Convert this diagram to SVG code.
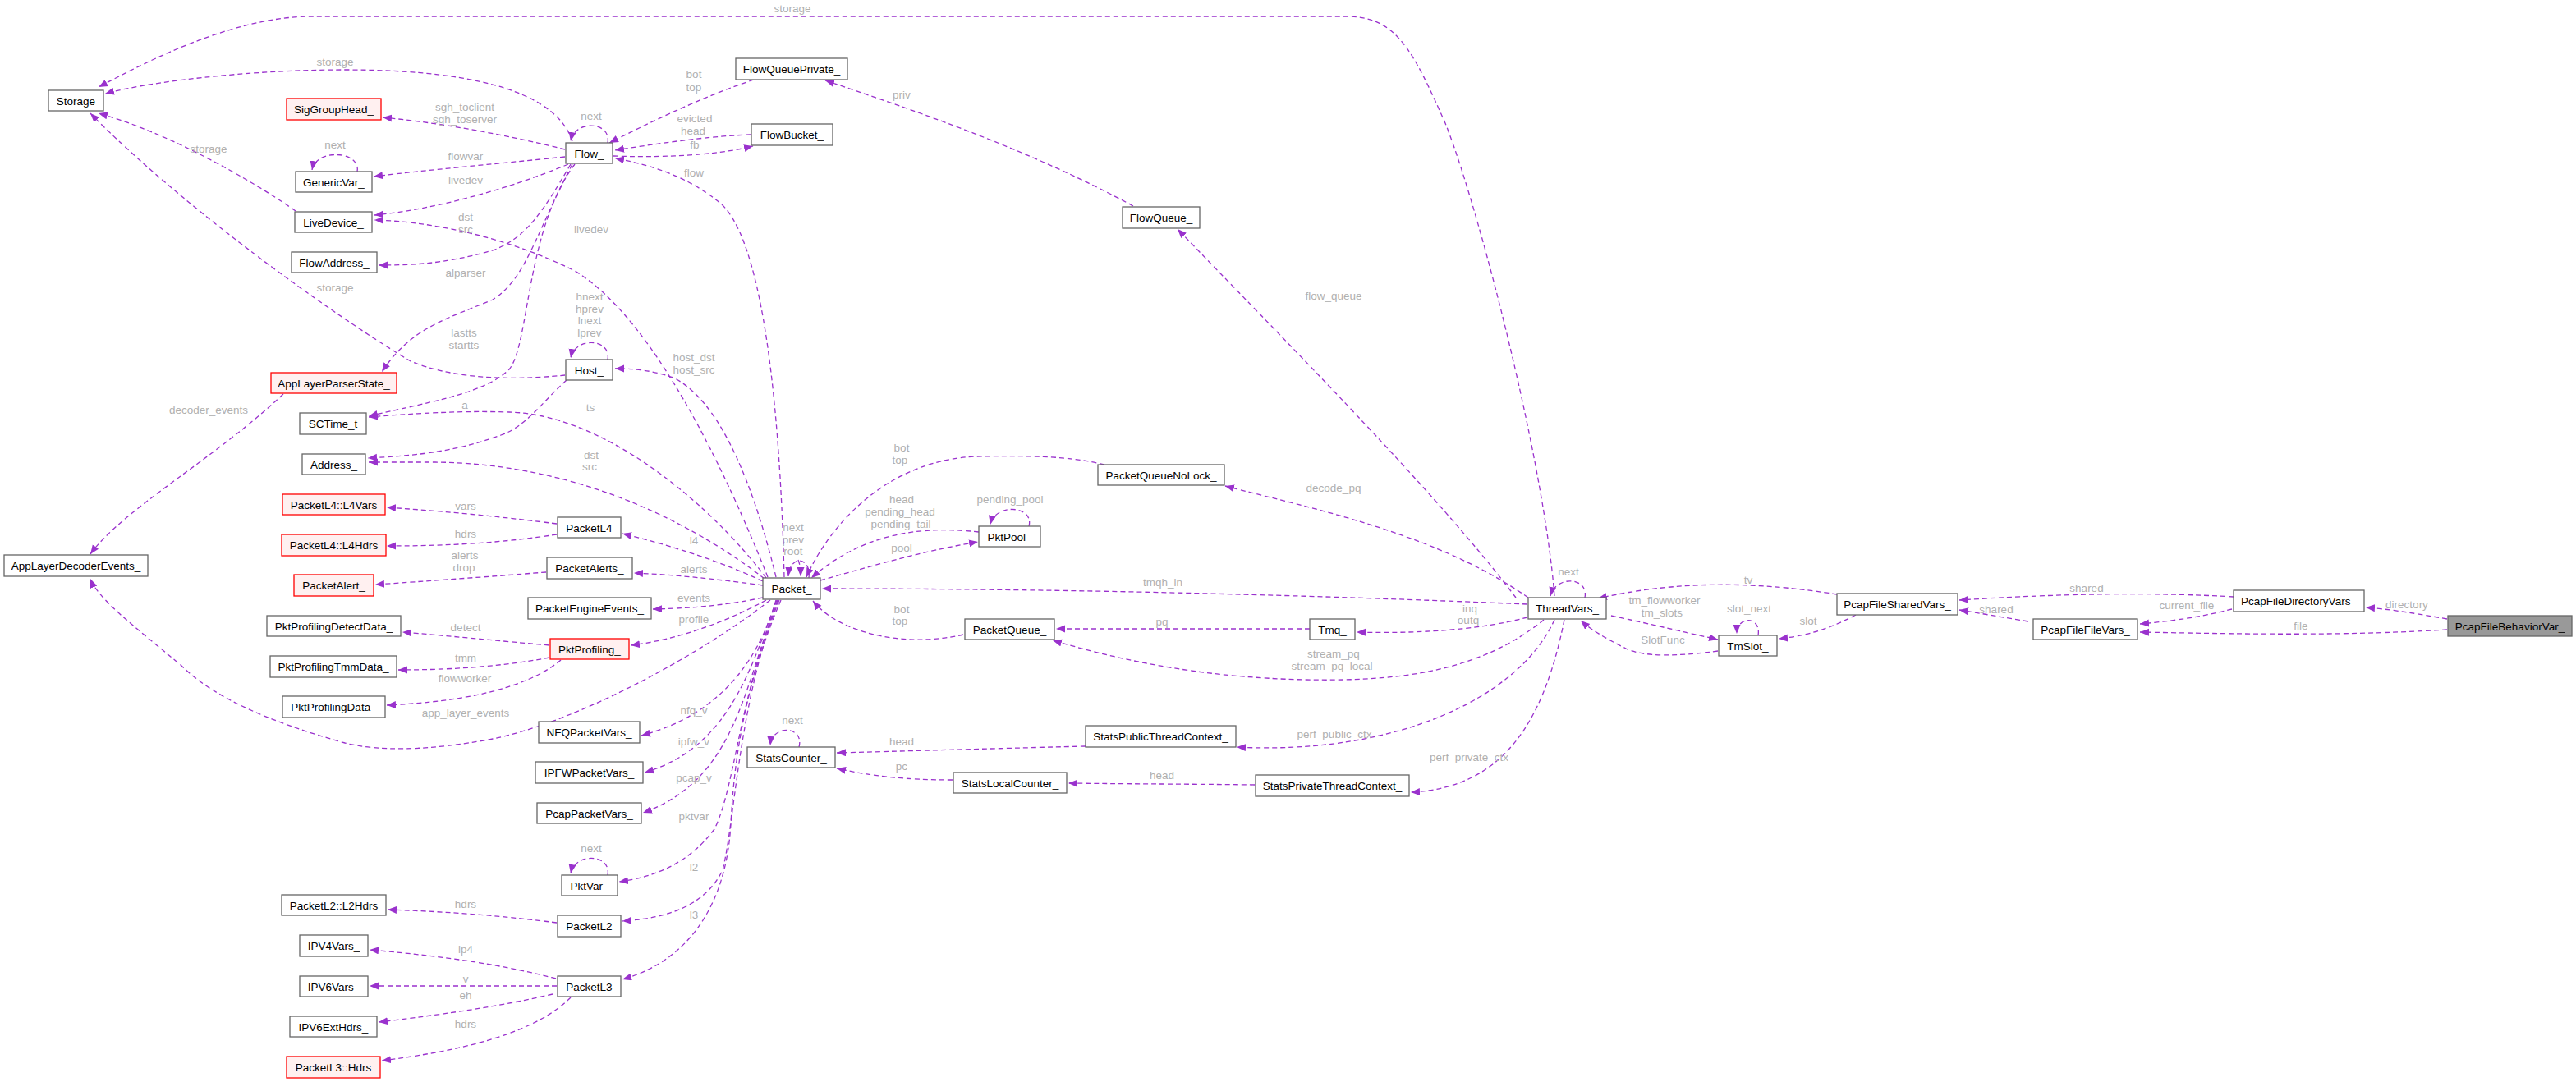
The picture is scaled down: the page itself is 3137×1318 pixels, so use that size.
<svg xmlns="http://www.w3.org/2000/svg" width="3137" height="1318" viewBox="0 0 3137 1318">
<style>
.n rect{fill:#fff;stroke:#666;stroke-width:1.3}
.r rect{fill:#fff0f0;stroke:#ff0000}
.g rect{fill:#999}
.n text{font-family:"Liberation Sans",Arial,sans-serif;font-size:13.5px;fill:#000;text-anchor:middle}
#edges path{fill:none;stroke:#9a32cd;stroke-width:1.3;stroke-dasharray:6,4;marker-end:url(#ah)}
#edges text{font-family:"Liberation Sans",Arial,sans-serif;font-size:13.5px;fill:#b0b0b0;text-anchor:middle}
</style>
<defs><marker id="ah" markerUnits="userSpaceOnUse" markerWidth="12" markerHeight="10" refX="11" refY="4.5" orient="auto"><path d="M0,0 L11,4.5 L0,9 z" fill="#9a32cd"/></marker></defs>
<rect width="3137" height="1318" fill="#fff"/>
<g id="edges">
<path d="M1893,726 C1880,560 1800,250 1760,150 C1720,60 1700,20 1640,20 L380,20 C280,20 170,80 120,106"/><text x="965" y="15">storage</text>
<path d="M697,172 C680,120 600,85 420,85 C300,85 180,100 128,114"/><text x="408" y="80">storage</text>
<path d="M360,257 C300,215 200,160 120,138"/><text x="254" y="186">storage</text>
<path d="M688,457 C640,462 560,465 500,440 C400,380 220,250 110,138"/><text x="408" y="355">storage</text>
<path d="M688,182 C620,165 540,150 466,143"/><text x="566" y="135">sgh_toclient</text><text x="566" y="150">sgh_toserver</text>
<path d="M740,174 C745,148 700,145 695,172"/><text x="720" y="146">next</text>
<path d="M688,191 C600,200 520,207 455,215"/><text x="567" y="195">flowvar</text>
<path d="M435,209 C440,184 385,180 380,207"/><text x="408" y="181">next</text>
<path d="M692,200 C620,230 530,255 456,262"/><text x="567" y="224">livedev</text>
<path d="M935,703 C890,590 800,390 700,330 C620,290 530,270 456,268"/><text x="720" y="284">livedev</text>
<path d="M695,200 C660,260 640,290 600,305 C540,322 500,323 461,323"/><text x="567" y="269">dst</text><text x="567" y="284">src</text>
<path d="M697,200 C650,290 640,340 600,365 C540,390 500,400 465,453"/><text x="567" y="337">alparser</text>
<path d="M700,200 C640,280 645,420 620,450 C590,480 520,490 449,507"/><text x="565" y="410">lastts</text><text x="565" y="425">startts</text>
<path d="M690,463 C660,490 640,520 610,530 C550,552 500,555 448,558"/><text x="566" y="498">a</text>
<path d="M740,438 C745,412 700,410 695,436"/><text x="718" y="366">hnext</text><text x="718" y="381">hprev</text><text x="718" y="395">lnext</text><text x="718" y="410">lprev</text>
<path d="M945,703 C920,600 880,490 820,460 C790,450 770,449 749,449"/><text x="845" y="440">host_dst</text><text x="845" y="455">host_src</text>
<path d="M933,704 C870,620 740,505 620,502 C560,500 500,504 449,508"/><text x="719" y="501">ts</text>
<path d="M931,705 C860,650 720,565 530,563 L449,563"/><text x="720" y="559">dst</text><text x="718" y="573">src</text>
<path d="M678,638 C600,628 530,622 471,618"/><text x="567" y="621">vars</text>
<path d="M678,651 C600,663 530,665 471,665"/><text x="567" y="655">hdrs</text>
<path d="M929,708 C870,680 800,660 758,650"/><text x="845" y="663">l4</text>
<path d="M665,697 C600,702 520,708 457,712"/><text x="566" y="681">alerts</text><text x="565" y="696">drop</text>
<path d="M929,713 C870,705 820,700 772,698"/><text x="845" y="698">alerts</text>
<path d="M929,728 C880,738 840,741 795,742"/><text x="845" y="733">events</text>
<path d="M933,731 C880,760 820,780 768,786"/><text x="845" y="759">profile</text>
<path d="M669,786 C600,780 540,774 490,770"/><text x="567" y="769">detect</text>
<path d="M669,801 C610,812 550,816 485,816"/><text x="567" y="806">tmm</text>
<path d="M683,804 C640,840 560,855 471,859"/><text x="566" y="831">flowworker</text>
<path d="M938,731 C850,800 700,880 600,900 C520,915 460,915 420,905 C330,880 260,850 220,810 C160,760 120,730 110,705"/><text x="567" y="873">app_layer_events</text>
<path d="M345,480 C260,560 150,620 110,675"/><text x="254" y="504">decoder_events</text>
<path d="M945,731 C925,800 880,870 781,896"/><text x="845" y="870">nfq_v</text>
<path d="M946,731 C915,810 890,910 785,941"/><text x="845" y="908">ipfw_v</text>
<path d="M947,731 C905,840 895,950 783,990"/><text x="845" y="952">pcap_v</text>
<path d="M948,731 C900,850 895,960 870,1010 C840,1050 800,1068 754,1074"/><text x="845" y="999">pktvar</text>
<path d="M740,1066 C745,1040 700,1038 695,1064"/><text x="720" y="1038">next</text>
<path d="M949,731 C900,850 895,1000 880,1060 C860,1100 820,1118 758,1122"/><text x="845" y="1061">l2</text>
<path d="M678,1124 C600,1114 530,1110 472,1108"/><text x="567" y="1106">hdrs</text>
<path d="M951,731 C900,850 893,950 890,1003 C885,1100 840,1170 758,1193"/><text x="845" y="1119">l3</text>
<path d="M677,1192 C600,1172 520,1163 450,1157"/><text x="567" y="1161">ip4</text>
<path d="M678,1201 L450,1201"/><text x="567" y="1197">v</text>
<path d="M673,1211 C600,1228 520,1238 461,1245"/><text x="567" y="1217">eh</text>
<path d="M695,1215 C650,1260 560,1280 465,1292"/><text x="567" y="1252">hdrs</text>
<path d="M985,704 C988,678 962,675 960,702"/><path d="M972,682 C975,690 975,695 975,702"/><text x="966" y="647">next</text><text x="966" y="662">prev</text><text x="966" y="676">root</text>
<path d="M955,703 C950,500 930,300 880,250 C840,215 790,200 749,193"/><text x="845" y="215">flow</text>
<path d="M747,190 C800,192 870,190 917,178"/><text x="846" y="181">fb</text>
<path d="M914,164 C860,166 800,175 749,183"/><text x="846" y="149">evicted</text><text x="844" y="164">head</text>
<path d="M918,97 C850,120 790,150 742,174"/><text x="845" y="95">bot</text><text x="845" y="111">top</text>
<path d="M1380,251 C1250,180 1100,130 1005,98"/><text x="1098" y="120">priv</text>
<path d="M1846,728 C1750,600 1550,400 1434,279"/><text x="1624" y="365">flow_queue</text>
<path d="M1861,728 C1750,650 1600,620 1492,592"/><text x="1624" y="599">decode_pq</text>
<path d="M1345,566 C1300,555 1250,555 1190,556 C1080,560 1010,640 982,703"/><text x="1098" y="550">bot</text><text x="1096" y="565">top</text>
<path d="M1192,648 C1120,640 1050,650 988,704"/><text x="1098" y="613">head</text><text x="1096" y="628">pending_head</text><text x="1097" y="643">pending_tail</text>
<path d="M1253,641 C1260,616 1212,612 1206,639"/><text x="1230" y="613">pending_pool</text>
<path d="M999,707 C1060,690 1120,672 1191,660"/><text x="1098" y="672">pool</text>
<path d="M1860,736 C1600,725 1300,717 1001,717"/><text x="1416" y="714">tmqh_in</text>
<path d="M1173,773 C1100,790 1020,770 990,732"/><text x="1098" y="747">bot</text><text x="1096" y="761">top</text>
<path d="M1595,766 L1286,766"/><text x="1415" y="762">pq</text>
<path d="M1860,752 C1800,768 1720,772 1652,770"/><text x="1790" y="746">inq</text><text x="1788" y="760">outq</text>
<path d="M1880,755 C1800,820 1700,830 1590,828 C1450,825 1350,800 1282,780"/><text x="1624" y="801">stream_pq</text><text x="1622" y="816">stream_pq_local</text>
<path d="M1893,755 C1850,850 1700,920 1506,910"/><text x="1625" y="899">perf_public_ctx</text>
<path d="M1905,755 C1880,880 1830,960 1718,965"/><text x="1789" y="927">perf_private_ctx</text>
<path d="M1322,909 C1200,912 1100,915 1019,917"/><text x="1098" y="908">head</text>
<path d="M1160,950 C1100,950 1060,945 1019,936"/><text x="1098" y="938">pc</text>
<path d="M1528,956 C1450,955 1380,955 1301,954"/><text x="1415" y="949">head</text>
<path d="M973,910 C980,884 940,882 938,908"/><text x="965" y="882">next</text>
<path d="M1930,728 C1935,703 1895,700 1888,726"/><text x="1910" y="701">next</text>
<path d="M1962,750 C2010,760 2050,770 2092,779"/><text x="2027" y="736">tm_flowworker</text><text x="2024" y="751">tm_slots</text>
<path d="M2092,793 C2040,800 2000,800 1980,790 C1950,775 1935,765 1925,756"/><text x="2025" y="784">SlotFunc</text>
<path d="M2141,774 C2145,750 2115,750 2115,772"/><text x="2130" y="746">slot_next</text>
<path d="M2237,724 C2150,710 2050,705 1946,729"/><text x="2129" y="711">tv</text>
<path d="M2260,749 C2230,765 2200,775 2166,778"/><text x="2202" y="761">slot</text>
<path d="M2720,727 C2600,720 2480,725 2386,731"/><text x="2541" y="721">shared</text>
<path d="M2470,757 C2440,752 2410,747 2386,743"/><text x="2431" y="747">shared</text>
<path d="M2718,742 C2680,752 2640,757 2606,760"/><text x="2663" y="742">current_file</text>
<path d="M2980,754 C2940,747 2910,742 2881,740"/><text x="2931" y="741">directory</text>
<path d="M2980,767 C2850,775 2720,772 2606,770"/><text x="2802" y="767">file</text>
</g>
<g id="Storage" class="n"><rect x="59" y="110" width="67" height="25"/><text x="92.5" y="127.5">Storage</text></g>
<g id="SigGroupHead" class="n r"><rect x="349" y="120" width="115" height="26"/><text x="406.5" y="138">SigGroupHead_</text></g>
<g id="Flow" class="n"><rect x="689" y="174" width="57" height="25"/><text x="717.5" y="191.5">Flow_</text></g>
<g id="FlowQueuePrivate" class="n"><rect x="896" y="71" width="136" height="26"/><text x="964" y="89">FlowQueuePrivate_</text></g>
<g id="FlowBucket" class="n"><rect x="915" y="151" width="99" height="26"/><text x="964.5" y="169">FlowBucket_</text></g>
<g id="GenericVar" class="n"><rect x="360" y="209" width="93" height="25"/><text x="406.5" y="226.5">GenericVar_</text></g>
<g id="LiveDevice" class="n"><rect x="359" y="258" width="94" height="25"/><text x="406" y="275.5">LiveDevice_</text></g>
<g id="FlowAddress" class="n"><rect x="355" y="307" width="104" height="25"/><text x="407" y="324.5">FlowAddress_</text></g>
<g id="Host" class="n"><rect x="689" y="438" width="57" height="25"/><text x="717.5" y="455.5">Host_</text></g>
<g id="AppLayerParserState" class="n r"><rect x="330" y="454" width="153" height="25"/><text x="406.5" y="471.5">AppLayerParserState_</text></g>
<g id="SCTime_t" class="n"><rect x="365" y="503" width="81" height="26"/><text x="405.5" y="521">SCTime_t</text></g>
<g id="Address" class="n"><rect x="368" y="553" width="77" height="25"/><text x="406.5" y="570.5">Address_</text></g>
<g id="L4Vars" class="n r"><rect x="344" y="602" width="125" height="25"/><text x="406.5" y="619.5">PacketL4::L4Vars</text></g>
<g id="L4Hdrs" class="n r"><rect x="343" y="651" width="127" height="26"/><text x="406.5" y="669">PacketL4::L4Hdrs</text></g>
<g id="PacketAlert" class="n r"><rect x="358" y="700" width="97" height="26"/><text x="406.5" y="718">PacketAlert_</text></g>
<g id="PktProfilingDetectData" class="n"><rect x="325" y="750" width="163" height="25"/><text x="406.5" y="767.5">PktProfilingDetectData_</text></g>
<g id="PktProfilingTmmData" class="n"><rect x="329" y="799" width="154" height="26"/><text x="406" y="817">PktProfilingTmmData_</text></g>
<g id="PktProfilingData" class="n"><rect x="344" y="848" width="125" height="26"/><text x="406.5" y="866">PktProfilingData_</text></g>
<g id="AppLayerDecoderEvents" class="n"><rect x="5" y="676" width="175" height="26"/><text x="92.5" y="694">AppLayerDecoderEvents_</text></g>
<g id="PacketL4" class="n"><rect x="679" y="630" width="77" height="25"/><text x="717.5" y="647.5">PacketL4</text></g>
<g id="PacketAlerts" class="n"><rect x="666" y="679" width="104" height="26"/><text x="718" y="697">PacketAlerts_</text></g>
<g id="PacketEngineEvents" class="n"><rect x="643" y="728" width="150" height="26"/><text x="718" y="746">PacketEngineEvents_</text></g>
<g id="PktProfiling" class="n r"><rect x="670" y="778" width="96" height="25"/><text x="718" y="795.5">PktProfiling_</text></g>
<g id="Packet" class="n"><rect x="929" y="704" width="70" height="26"/><text x="964" y="722">Packet_</text></g>
<g id="NFQPacketVars" class="n"><rect x="656" y="879" width="123" height="26"/><text x="717.5" y="897">NFQPacketVars_</text></g>
<g id="IPFWPacketVars" class="n"><rect x="652" y="928" width="131" height="26"/><text x="717.5" y="946">IPFWPacketVars_</text></g>
<g id="PcapPacketVars" class="n"><rect x="654" y="978" width="127" height="25"/><text x="717.5" y="995.5">PcapPacketVars_</text></g>
<g id="PktVar" class="n"><rect x="684" y="1066" width="68" height="25"/><text x="718" y="1083.5">PktVar_</text></g>
<g id="PacketL2" class="n"><rect x="679" y="1115" width="77" height="26"/><text x="717.5" y="1133">PacketL2</text></g>
<g id="L2Hdrs" class="n"><rect x="343" y="1090" width="127" height="25"/><text x="406.5" y="1107.5">PacketL2::L2Hdrs</text></g>
<g id="IPV4Vars" class="n"><rect x="365" y="1139" width="83" height="26"/><text x="406.5" y="1157">IPV4Vars_</text></g>
<g id="IPV6Vars" class="n"><rect x="365" y="1189" width="83" height="25"/><text x="406.5" y="1206.5">IPV6Vars_</text></g>
<g id="PacketL3" class="n"><rect x="679" y="1189" width="77" height="25"/><text x="717.5" y="1206.5">PacketL3</text></g>
<g id="IPV6ExtHdrs" class="n"><rect x="353" y="1238" width="106" height="25"/><text x="406" y="1255.5">IPV6ExtHdrs_</text></g>
<g id="L3Hdrs" class="n r"><rect x="349" y="1287" width="114" height="26"/><text x="406" y="1305">PacketL3::Hdrs</text></g>
<g id="StatsCounter" class="n"><rect x="910" y="910" width="107" height="25"/><text x="963.5" y="927.5">StatsCounter_</text></g>
<g id="PacketQueueNoLock" class="n"><rect x="1337" y="566" width="154" height="25"/><text x="1414" y="583.5">PacketQueueNoLock_</text></g>
<g id="PktPool" class="n"><rect x="1192" y="641" width="75" height="25"/><text x="1229.5" y="658.5">PktPool_</text></g>
<g id="PacketQueue" class="n"><rect x="1175" y="754" width="109" height="25"/><text x="1229.5" y="771.5">PacketQueue_</text></g>
<g id="Tmq" class="n"><rect x="1595" y="754" width="55" height="25"/><text x="1622.5" y="771.5">Tmq_</text></g>
<g id="FlowQueue" class="n"><rect x="1367" y="252" width="94" height="26"/><text x="1414" y="270">FlowQueue_</text></g>
<g id="StatsPublicThreadContext" class="n"><rect x="1322" y="884" width="183" height="26"/><text x="1413.5" y="902">StatsPublicThreadContext_</text></g>
<g id="StatsLocalCounter" class="n"><rect x="1161" y="941" width="138" height="25"/><text x="1230" y="958.5">StatsLocalCounter_</text></g>
<g id="StatsPrivateThreadContext" class="n"><rect x="1529" y="944" width="187" height="26"/><text x="1622.5" y="962">StatsPrivateThreadContext_</text></g>
<g id="ThreadVars" class="n"><rect x="1861" y="728" width="95" height="26"/><text x="1908.5" y="746">ThreadVars_</text></g>
<g id="TmSlot" class="n"><rect x="2093" y="774" width="71" height="25"/><text x="2128.5" y="791.5">TmSlot_</text></g>
<g id="PcapFileSharedVars" class="n"><rect x="2237" y="723" width="147" height="26"/><text x="2310.5" y="741">PcapFileSharedVars_</text></g>
<g id="PcapFileDirectoryVars" class="n"><rect x="2720" y="719" width="159" height="26"/><text x="2799.5" y="737">PcapFileDirectoryVars_</text></g>
<g id="PcapFileFileVars" class="n"><rect x="2476" y="754" width="127" height="25"/><text x="2539.5" y="771.5">PcapFileFileVars_</text></g>
<g id="PcapFileBehaviorVar" class="n g"><rect x="2981" y="750" width="151" height="25"/><text x="3056.5" y="767.5">PcapFileBehaviorVar_</text></g>
</svg>
